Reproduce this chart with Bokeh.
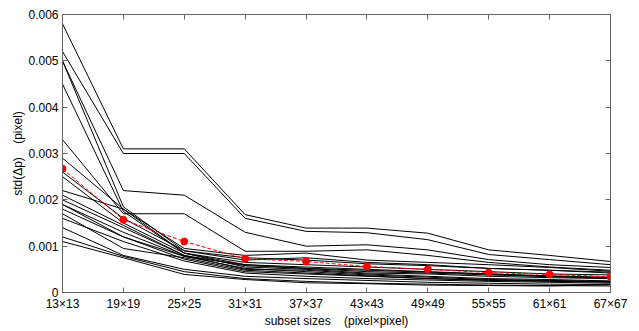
from bokeh.plotting import figure
from bokeh.models import FixedTicker, LinearAxis, PrintfTickFormatter, Range1d
from bokeh.embed import file_html
from bokeh.resources import INLINE

categories = ["13\u00d713", "19\u00d719", "25\u00d725", "31\u00d731", "37\u00d737",
              "43\u00d743", "49\u00d749", "55\u00d755", "61\u00d761", "67\u00d767"]
y_ticks = [0, 0.001, 0.002, 0.003, 0.004, 0.005, 0.006]

s01 = [0.0058, 0.0031, 0.0031, 0.00168, 0.00139, 0.00139, 0.00128, 0.00092, 0.0008, 0.00067]
s02 = [0.0052, 0.0030, 0.0030, 0.0016, 0.00132, 0.00129, 0.00114, 0.00082, 0.00071, 0.0006]
s03 = [0.0050, 0.0022, 0.0021, 0.0013, 0.0010, 0.00103, 0.00092, 0.00071, 0.0006, 0.00054]
s04 = [0.0033, 0.0017, 0.0017, 0.00089, 0.00089, 0.00092, 0.0008, 0.00065, 0.00055, 0.00048]
s05 = [0.0050, 0.00185, 0.0009, 0.0007, 0.00075, 0.00065, 0.0006, 0.00052, 0.00048, 0.00042]
s06 = [0.0045, 0.00175, 0.00085, 0.00065, 0.0006, 0.00055, 0.0005, 0.00045, 0.0004, 0.00038]
s07 = [0.0029, 0.0018, 0.00095, 0.0008, 0.00085, 0.0007, 0.00065, 0.0006, 0.00054, 0.00046]
s08 = [0.0026, 0.0016, 0.0009, 0.00075, 0.0007, 0.00062, 0.00058, 0.00052, 0.00048, 0.00044]
s09 = [0.0025, 0.0015, 0.00085, 0.0006, 0.00055, 0.0005, 0.00045, 0.0004, 0.00035, 0.0003]
s10 = [0.0022, 0.0018, 0.00085, 0.00055, 0.0005, 0.00042, 0.0004, 0.00035, 0.00032, 0.0003]
s11 = [0.0021, 0.00145, 0.0008, 0.00058, 0.00052, 0.00045, 0.00042, 0.00038, 0.00034, 0.00032]
s12 = [0.0020, 0.0014, 0.0008, 0.0005, 0.00048, 0.0004, 0.00035, 0.0003, 0.00028, 0.00025]
s13 = [0.0019, 0.0013, 0.00078, 0.00052, 0.00045, 0.00038, 0.00033, 0.00028, 0.00026, 0.00024]
s14 = [0.0019, 0.0012, 0.00072, 0.00045, 0.0004, 0.00035, 0.0003, 0.00026, 0.00024, 0.00022]
s15 = [0.0018, 0.0012, 0.00078, 0.0006, 0.00052, 0.00048, 0.00044, 0.0004, 0.00036, 0.00033]
s16 = [0.0017, 0.00095, 0.00075, 0.00048, 0.00042, 0.00036, 0.0003, 0.00027, 0.00025, 0.00023]
s17 = [0.0016, 0.0011, 0.00068, 0.00042, 0.00035, 0.0003, 0.00027, 0.00024, 0.00022, 0.0002]
s18 = [0.0014, 0.0008, 0.0005, 0.00035, 0.0003, 0.00026, 0.00022, 0.0002, 0.00018, 0.00017]
s19 = [0.0012, 0.00078, 0.00045, 0.0003, 0.00024, 0.0002, 0.00018, 0.00016, 0.00015, 0.00014]
s20 = [0.0011, 0.00075, 0.00039, 0.00028, 0.00021, 0.00019, 0.00016, 0.00015, 0.00014, 0.00017]
black_series = [s01, s02, s03, s04, s05, s06, s07, s08, s09, s10,
                s11, s12, s13, s14, s15, s16, s17, s18, s19, s20]

mean_series = [0.00267, 0.00157, 0.0011, 0.00073, 0.00067, 0.00056, 0.0005, 0.00043, 0.00039, 0.00034]

xs = list(range(len(categories)))

p = figure(width=630, height=330, output_backend="svg", toolbar_location=None,
           x_range=Range1d(0, len(categories) - 1), y_range=Range1d(0, 0.006),
           min_border_left=62, min_border_right=20, min_border_top=14, min_border_bottom=37)
p.xgrid.visible = False
p.ygrid.visible = False
p.outline_line_color = "#666666"
p.background_fill_color = "white"

for s in black_series:
    p.line(xs, s, line_color="black", line_width=1)

p.line(xs, mean_series, line_color="red", line_width=1, line_dash="4 2")
p.scatter(xs, mean_series, size=7, color="red")

font = "Liberation Sans"
xt = FixedTicker(ticks=xs)
yt = FixedTicker(ticks=y_ticks)
overrides = {i: c for i, c in enumerate(categories)}
nb = "\u00a0"

for ax in p.xaxis:
    ax.ticker = xt
    ax.major_label_overrides = overrides
    ax.axis_label = "subset sizes" + nb * 4 + "(pixel\u00d7pixel)"
for ax in p.yaxis:
    ax.ticker = yt
    ax.formatter = PrintfTickFormatter(format="%g")
    ax.axis_label = "std(\u0394p)" + nb * 4 + "(pixel)"

for ax in list(p.xaxis) + list(p.yaxis):
    ax.major_tick_in = 5
    ax.major_tick_out = 0
    ax.minor_tick_line_color = None
    ax.axis_line_color = "#666666"
    ax.major_tick_line_color = "#666666"
    ax.major_label_text_font = font
    ax.major_label_text_font_size = "12px"
    ax.major_label_text_color = "black"
    ax.axis_label_text_font = font
    ax.axis_label_text_font_size = "12px"
    ax.axis_label_text_font_style = "normal"
    ax.axis_label_text_color = "black"
    ax.major_label_standoff = 4
    ax.axis_label_standoff = 0

top = LinearAxis(ticker=xt, major_label_text_font_size="0px", major_tick_in=5, major_tick_out=0,
                 minor_tick_line_color=None, axis_line_color="#666666",
                 major_tick_line_color="#666666", major_label_standoff=0)
right = LinearAxis(ticker=yt, major_label_text_font_size="0px", major_tick_in=5, major_tick_out=0,
                   minor_tick_line_color=None, axis_line_color="#666666",
                   major_tick_line_color="#666666", major_label_standoff=0)
top.major_label_text_color = None
right.major_label_text_color = None
p.add_layout(top, "above")
p.add_layout(right, "right")

open("out.html", "w").write(file_html(p, INLINE))
